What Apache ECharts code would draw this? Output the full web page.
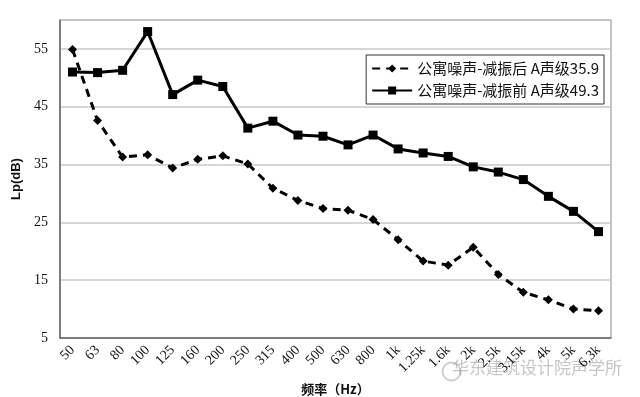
<!DOCTYPE html>
<html>
<head>
<meta charset="utf-8">
<script src="https://cdn.jsdelivr.net/npm/echarts@6/dist/echarts.min.js"></script>
<style>
  html, body { margin: 0; padding: 0; background: #fff; }
  #chart { width: 640px; height: 397px; }
</style>
</head>
<body>
<div id="chart"></div>
<script>
// 频率 (Hz)
const freqs = ['50','63','80','100','125','160','200','250','315','400','500','630','800','1k','1.25k','1.6k','2k','2.5k','3.15k','4k','5k','6.3k'];
// 公寓噪声-减振后
const afterVals = [54.9,42.6,36.3,36.7,34.4,35.9,36.5,35.1,30.9,28.8,27.4,27.1,25.5,22.0,18.3,17.6,20.7,16.0,12.9,11.6,10.0,9.7];
// 公寓噪声-减振前
const beforeVals = [51.0,50.9,51.3,58.0,47.1,49.6,48.5,41.3,42.5,40.1,39.9,38.4,40.1,37.7,37.0,36.4,34.6,33.7,32.4,29.5,26.9,23.4];
const afterName = '公寓噪声-减振后 A声级35.9';
const beforeName = '公寓噪声-减振前 A声级49.3';

const myChart = echarts.init(document.getElementById('chart'));
const serif = '"Liberation Serif", "Times New Roman", serif';
const cjk = '"Noto Sans CJK SC", sans-serif';

const option = {
  animation: false,
  grid: {
    left: 60, right: 29, top: 20, bottom: 59,
    outerBoundsMode: 'none',
    show: true, borderColor: '#888', borderWidth: 1
  },
  legend: {
    right: 36, top: 55,
    orient: 'vertical',
    itemGap: 7,
    itemWidth: 40,
    itemHeight: 10,
    padding: [6, 5, 6, 5],
    backgroundColor: '#fff',
    borderColor: '#333',
    borderWidth: 1,
    textStyle: { fontFamily: cjk, fontSize: 15, color: '#111' },
    data: [afterName, beforeName]
  },
  xAxis: {
    type: 'category',
    data: freqs,
    boundaryGap: true,
    name: '频率（Hz）',
    nameLocation: 'middle',
    nameGap: 42,
    nameTextStyle: { fontFamily: cjk, fontWeight: 'bold', fontSize: 13, color: '#111' },
    axisLine: { lineStyle: { color: '#666', width: 1.5 } },
    axisTick: { inside: true, length: 4, lineStyle: { color: '#666' } },
    axisLabel: { rotate: 45, interval: 0, fontFamily: serif, fontSize: 14, color: '#111', margin: 10 },
    splitLine: { show: false }
  },
  yAxis: {
    type: 'value',
    min: 5, max: 60, interval: 10,
    name: 'Lp(dB)',
    nameLocation: 'middle',
    nameGap: 36,
    nameTextStyle: { fontFamily: 'Liberation Sans, sans-serif', fontWeight: 'bold', fontSize: 13, color: '#111' },
    axisLine: { show: true, lineStyle: { color: '#666', width: 1.5 } },
    axisTick: { show: false },
    axisLabel: {
      fontFamily: serif, fontSize: 14, color: '#111', margin: 12,
      formatter: v => (v <= 55 ? v : '')
    },
    splitLine: { lineStyle: { color: '#c8c8c8', width: 1.5 } }
  },
  graphic: [
    {
      type: 'circle', left: 440, top: 360,
      shape: { r: 9 },
      style: { fill: 'none', stroke: 'rgba(160,160,160,0.5)', lineWidth: 2 }
    },
    {
      type: 'text', right: 18, top: 359,
      style: { text: '华东建筑设计院声学所', fontFamily: cjk, fontSize: 17, fill: 'rgba(150,150,150,0.55)' }
    }
  ],
  series: [
    {
      name: afterName,
      type: 'line',
      data: afterVals,
      symbol: 'diamond',
      symbolSize: 9,
      lineStyle: { color: '#000', width: 3, type: [8, 6] },
      itemStyle: { color: '#000' }
    },
    {
      name: beforeName,
      type: 'line',
      data: beforeVals,
      symbol: 'rect',
      symbolSize: 9,
      lineStyle: { color: '#000', width: 3 },
      itemStyle: { color: '#000' }
    }
  ]
};
myChart.setOption(option);
window.onresize = myChart.resize;
</script>
</body>
</html>
